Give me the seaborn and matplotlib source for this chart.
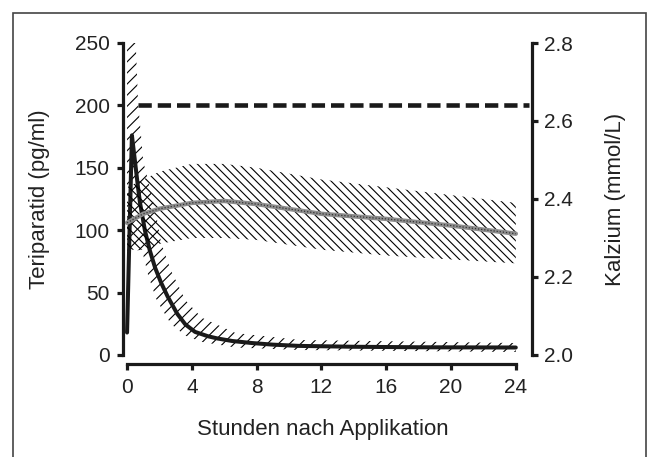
import matplotlib
matplotlib.use("Agg")
import matplotlib.pyplot as plt
import seaborn as sns
from matplotlib.patches import Rectangle

# Teriparatid (left axis, pg/ml)
teri_hours = [0, 0.3, 0.5, 0.68, 0.8, 1.1, 1.4, 1.73, 2.1, 2.5, 3.1, 3.6, 4.2,
              5.0, 5.6, 6.5, 7.7, 9.0, 10.6, 14, 18, 24]
teri_conc = [18, 176, 154, 134, 122, 100, 84, 70, 58, 47, 33, 24.5, 18.5,
             15, 13.2, 11.2, 9.6, 8.3, 7.3, 6.6, 6.2, 6.0]

teri_band_hours = [0, 0.5, 0.68, 0.87, 1.0, 1.3, 1.8, 2.1, 2.7, 3.6, 4.6, 6.7, 10.7, 24]
teri_upper = [262, 262, 202, 175, 155, 140, 112, 90, 68, 44, 30, 17.6, 12, 9.6]
teri_lower = [82, 83, 84, 84, 80, 64, 45, 38, 25, 15.5, 10.5, 6, 4, 2.4]

# Kalzium (right axis, mmol/L)
ca_hours = [0, 1, 2, 4, 6, 8, 12, 16, 20, 24]
ca_conc = [2.339, 2.362, 2.375, 2.39, 2.395, 2.387, 2.362, 2.349, 2.332, 2.311]
ca_upper = [2.43, 2.45, 2.47, 2.49, 2.49, 2.48, 2.45, 2.43, 2.41, 2.39]
ca_lower = [2.27, 2.27, 2.285, 2.30, 2.30, 2.295, 2.27, 2.255, 2.245, 2.235]

# dashed reference level (left axis)
ref_hours = [0.68, 24.8]
ref_level = [200, 200]

x_ticks = [0, 4, 8, 12, 16, 20, 24]
left_ticks = [0, 50, 100, 150, 200, 250]
right_ticks = [2.0, 2.2, 2.4, 2.6, 2.8]

sns.set_style("ticks")
plt.rcParams['font.family'] = ['Liberation Sans', 'DejaVu Sans']
plt.rcParams['hatch.linewidth'] = 0.8
TXT = "#222222"

fig = plt.figure(figsize=(6.51, 4.57), dpi=100)
ax = fig.add_axes([123 / 651, 1 - 355 / 457, 409 / 651, 312 / 457])
ax2 = ax.twinx()

# bands
ax.fill_between(teri_band_hours, teri_lower, teri_upper, facecolor="none",
                edgecolor="black", hatch="///", linewidth=0)
ax2.fill_between(ca_hours, ca_lower, ca_upper, facecolor="none",
                 edgecolor="black", hatch="\\\\\\\\", linewidth=0)

# curves
sns.lineplot(x=teri_hours, y=teri_conc, ax=ax, color="#1a1a1a", lw=2.9,
             errorbar=None, sort=False)
sns.lineplot(x=ref_hours, y=ref_level, ax=ax, color="#1a1a1a", lw=3.3,
             linestyle=(0, (2.9, 1.3)), errorbar=None, clip_on=False)
sns.lineplot(x=ca_hours, y=ca_conc, ax=ax2, color="#8c8c8c", lw=3.2,
             errorbar=None)
sns.lineplot(x=ca_hours, y=ca_conc, ax=ax2, color="#333333", lw=0.9,
             linestyle=(0, (1, 1.5)), errorbar=None)

ax.set_xlim(-0.25, 25.0)
ax.set_ylim(0, 250)
ax2.set_ylim(2.0, 2.8)

for a in (ax, ax2):
    a.set_facecolor("none")
    a.spines["top"].set_visible(False)
    a.set_xlabel("")
    a.set_ylabel("")
ax.spines["right"].set_visible(False)
ax2.spines["left"].set_visible(False)
ax2.spines["bottom"].set_visible(False)

ax.spines["left"].set_bounds(0, 250)
ax.spines["bottom"].set_bounds(0, 24)
ax.spines["bottom"].set_position(("outward", 6.5))
ax2.spines["right"].set_bounds(2.0, 2.8)
for sp in (ax.spines["left"], ax.spines["bottom"], ax2.spines["right"]):
    sp.set_linewidth(2.3)
    sp.set_color("#1a1a1a")

ax.set_xticks(x_ticks)
ax.set_yticks(left_ticks)
ax2.set_yticks(right_ticks)
ax2.set_yticklabels([f"{v:.1f}" for v in right_ticks])

ax.tick_params(axis="y", direction="out", length=4.5, width=2.3, pad=5,
               labelsize=15, colors="#1a1a1a", labelcolor=TXT)
ax.tick_params(axis="x", direction="out", length=4, width=2.3, pad=6,
               labelsize=15, colors="#1a1a1a", labelcolor=TXT)
ax2.tick_params(axis="y", direction="out", length=4, width=2.3, pad=4.5,
                labelsize=15, colors="#1a1a1a", labelcolor=TXT)

fig.text(323 / 651, 1 - 430 / 457, "Stunden nach Applikation", ha="center",
         va="center", fontsize=16, color=TXT)
fig.text(40 / 651, 1 - 199 / 457, "Teriparatid (pg/ml)", ha="center",
         va="center", rotation=90, fontsize=16, color=TXT)
fig.text(616 / 651, 1 - 199 / 457, "Kalzium (mmol/L)", ha="center",
         va="center", rotation=90, fontsize=16, color=TXT)

# outer frame
fig.add_artist(Rectangle((13 / 651, -0.1), 633 / 651, 1.1 - 13 / 457,
                         transform=fig.transFigure, fill=False,
                         edgecolor="#444444", linewidth=1.2))

fig.savefig("out.png", dpi=100)
